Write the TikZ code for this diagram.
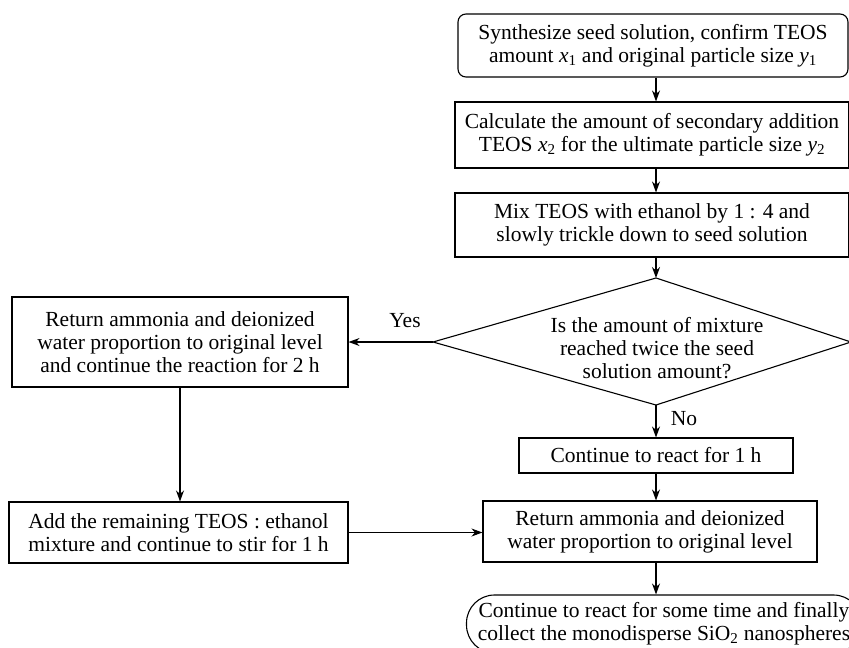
\documentclass[tikz,border=0pt]{standalone}
\usepackage{fontspec}
\setmainfont{Liberation Serif}
\usetikzlibrary{arrows.meta}
\newcommand\vx[2]{\textit{#1}\textsubscript{#2}}
\begin{document}
\begin{tikzpicture}[x=1pt,y=-1pt,
 every node/.style={font=\fontsize{21.5}{23}\selectfont},
 box/.style={draw, line width=1.1pt, align=center, inner sep=0pt},
 lbl/.style={inner sep=0pt},
 arr/.style={-{Stealth[length=11pt,width=8pt]}, line width=1.1pt},
 edge/.style={line width=1.1pt}]
\useasboundingbox (0,0) rectangle (849,648);
\coordinate (ax) at (656,0);
\node[box, rounded corners=8pt, minimum width=390pt, minimum height=63pt] (n1) at (653,45.5)
 {Synthesize seed solution, confirm TEOS\\ amount \vx{x}{1} and original particle size \vx{y}{1}};
\node[box, minimum width=394pt, minimum height=66pt] (n2) at (652,135)
 {Calculate the amount of secondary addition\\ TEOS \vx{x}{2} for the ultimate particle size \vx{y}{2}};
\node[box, minimum width=394pt, minimum height=64pt] (n3) at (652,225)
 {Mix TEOS with ethanol by 1 : 4 and\\ slowly trickle down to seed solution};
\coordinate (dT) at (656,278);
\coordinate (dR) at (851,342);
\coordinate (dB) at (656,405);
\coordinate (dL) at (433,342);
\draw[edge] (dT) -- (dR) -- (dB) -- (dL) -- cycle;
\node[lbl, align=center] (dq) at (657,348) {Is the amount of mixture\\ reached twice the seed\\ solution amount?};
\node[box, minimum width=274pt, minimum height=35pt] (n4) at (656,455.5) {Continue to react for 1 h};
\node[box, minimum width=334pt, minimum height=61pt] (n5) at (650,531.5)
 {Return ammonia and deionized\\ water proportion to original level};
\node[box, rounded corners=28pt, minimum width=395pt, minimum height=58pt] (n6) at (664,624)
 {Continue to react for some time and finally\\ collect the monodisperse SiO\textsubscript{2} nanospheres};
\node[box, minimum width=336pt, minimum height=90pt] (A) at (180,342)
 {Return ammonia and deionized\\ water proportion to original level\\ and continue the reaction for 2 h};
\node[box, minimum width=339pt, minimum height=61pt] (B) at (178.5,532.5)
 {Add the remaining TEOS : ethanol\\ mixture and continue to stir for 1 h};
\node[lbl] (yes) at (405,321) {Yes};
\node[lbl] (no) at (684,419) {No};
\draw[arr] (n1.south -| ax) -- (n2.north -| ax);
\draw[arr] (n2.south -| ax) -- (n3.north -| ax);
\draw[arr] (n3.south -| ax) -- (dT);
\draw[arr] (dB) -- (n4.north -| ax);
\draw[arr] (n4.south -| ax) -- (n5.north -| ax);
\draw[arr] (n5.south -| ax) -- (n6.north -| ax);
\draw[arr] (dL) -- (A.east);
\draw[arr] (A.south) -- (A.south |- B.north);
\draw[arr] (B.east) -- (B.east -| n5.west);
\end{tikzpicture}
\end{document}
